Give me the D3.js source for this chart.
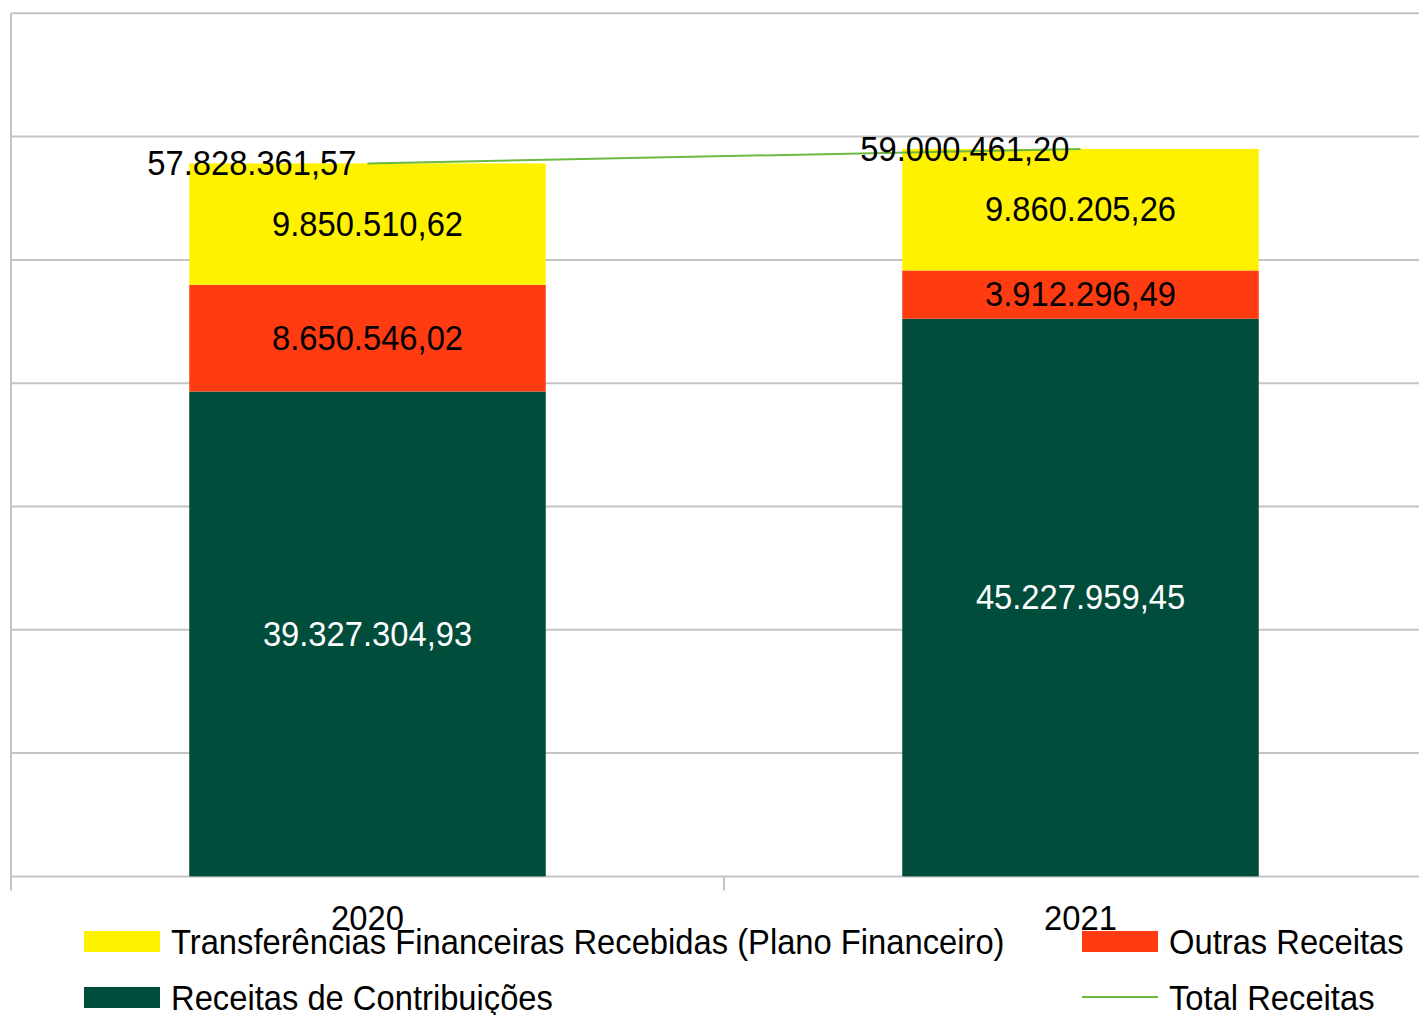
<!DOCTYPE html>
<html>
<head>
<meta charset="utf-8">
<script src="https://cdn.jsdelivr.net/npm/d3@7"></script>
<style>
  body { margin: 0; background: #fff; }
  text { font-family: "Liberation Sans", Arial, sans-serif; }
</style>
</head>
<body>
<main></main>
<script>
// Data
const years = ["2020", "2021"];
const contribuicoes = [39327304.93, 45227959.45];
const outras = [8650546.02, 3912296.49];
const transferencias = [9850510.62, 9860205.26];
const totais = [57828361.57, 59000461.20];
const yTicks = [0, 10000000, 20000000, 30000000, 40000000, 50000000, 60000000, 70000000];

// Dimensions
const width = 1419;
const height = 1015;
const plot = { left: 11, right: 1437, top: 13.3, bottom: 876.4 };
const fontSize = 35;
const squeeze = 0.935; // text in the original is slightly condensed

const colors = {
  contribuicoes: "#014d3c",
  outras: "#ff3b12",
  transferencias: "#fff200",
  total: "#6cb845",
  grid: "#c4c4c4",
};

const svg = d3
  .select("main")
  .append("svg")
  .attr("width", width)
  .attr("height", height);

// place a condensed text at (x, y)
const place = (x, y) => `translate(${x}, ${y}) scale(${squeeze}, 1)`;

// Scales
const xScale = d3
  .scaleBand()
  .domain(years)
  .range([plot.left, plot.right])
  .paddingInner(0.5)
  .paddingOuter(0.25);

const yScale = d3
  .scaleLinear()
  .domain([0, 70000000])
  .range([plot.bottom, plot.top]);

// Gridlines
svg
  .append("g")
  .selectAll("line")
  .data(yTicks)
  .enter()
  .append("line")
  .attr("x1", plot.left)
  .attr("x2", width)
  .attr("y1", (d) => yScale(d))
  .attr("y2", (d) => yScale(d))
  .attr("stroke", colors.grid)
  .attr("stroke-width", 2);

// Left axis line
svg
  .append("line")
  .attr("x1", plot.left)
  .attr("x2", plot.left)
  .attr("y1", plot.top)
  .attr("y2", plot.bottom + 14)
  .attr("stroke", colors.grid)
  .attr("stroke-width", 2);

// Tick marks between categories
const step = xScale.step();
svg
  .append("g")
  .selectAll("line")
  .data([1])
  .enter()
  .append("line")
  .attr("x1", (d) => plot.left + d * step)
  .attr("x2", (d) => plot.left + d * step)
  .attr("y1", plot.bottom)
  .attr("y2", plot.bottom + 14)
  .attr("stroke", colors.grid)
  .attr("stroke-width", 2);

// Stacked data
const rows = years.map((y, i) => ({
  year: y,
  contribuicoes: contribuicoes[i],
  outras: outras[i],
  transferencias: transferencias[i],
}));
const keys = ["contribuicoes", "outras", "transferencias"];
const stack = d3.stack().keys(keys)(rows);

const labelFormat = (v) =>
  v.toLocaleString("pt-BR", { minimumFractionDigits: 2, maximumFractionDigits: 2 });

stack.forEach((layer) => {
  const g = svg.append("g");
  g.selectAll("rect")
    .data(layer)
    .enter()
    .append("rect")
    .attr("x", (d) => xScale(d.data.year))
    .attr("y", (d) => yScale(d[1]))
    .attr("width", xScale.bandwidth())
    .attr("height", (d) => yScale(d[0]) - yScale(d[1]))
    .attr("fill", colors[layer.key]);

  g.selectAll("text")
    .data(layer)
    .enter()
    .append("text")
    .attr("transform", (d) =>
      place(xScale(d.data.year) + xScale.bandwidth() / 2, (yScale(d[0]) + yScale(d[1])) / 2 - 1)
    )
    .attr("dy", "0.36em")
    .attr("text-anchor", "middle")
    .attr("font-size", fontSize)
    .attr("fill", layer.key === "contribuicoes" ? "#ffffff" : "#000000")
    .text((d) => labelFormat(d[1] - d[0]));
});

// Total line
const cx = (y) => xScale(y) + xScale.bandwidth() / 2;
const line = d3
  .line()
  .x((d, i) => cx(years[i]))
  .y((d) => yScale(d));

svg
  .append("path")
  .datum(totais)
  .attr("d", line)
  .attr("fill", "none")
  .attr("stroke", colors.total)
  .attr("stroke-width", 2);

svg
  .append("g")
  .selectAll("text")
  .data(totais)
  .enter()
  .append("text")
  .attr("transform", (d, i) => place(cx(years[i]) - 11, yScale(d) - 1))
  .attr("dy", "0.36em")
  .attr("text-anchor", "end")
  .attr("font-size", fontSize)
  .attr("fill", "#000")
  .text((d) => labelFormat(d));

// Legend
const legendItems = [
  { label: "Transferências Financeiras Recebidas (Plano Financeiro)", key: "transferencias", x: 84, y: 941, type: "rect" },
  { label: "Outras Receitas", key: "outras", x: 1082, y: 941, type: "rect" },
  { label: "Receitas de Contribuições", key: "contribuicoes", x: 84, y: 997, type: "rect" },
  { label: "Total Receitas", key: "total", x: 1082, y: 997, type: "line" },
];

const legend = svg.append("g").attr("id", "legend");
legendItems.forEach((item) => {
  if (item.type === "rect") {
    legend
      .append("rect")
      .attr("x", item.x)
      .attr("y", item.y - 10)
      .attr("width", 76)
      .attr("height", 21)
      .attr("fill", colors[item.key]);
  } else {
    legend
      .append("line")
      .attr("x1", item.x)
      .attr("x2", item.x + 76)
      .attr("y1", item.y)
      .attr("y2", item.y)
      .attr("stroke", colors[item.key])
      .attr("stroke-width", 2);
  }
  legend
    .append("text")
    .attr("transform", place(item.x + 87, item.y))
    .attr("dy", "0.36em")
    .attr("font-size", fontSize)
    .attr("fill", "#000")
    .text(item.label);
});

// X axis labels
const xAxis = d3.axisBottom(xScale).tickSize(0).tickPadding(0);
svg
  .append("g")
  .attr("transform", `translate(0, ${plot.bottom})`)
  .call(xAxis)
  .call((g) => g.select(".domain").remove())
  .selectAll("text")
  .attr("font-size", fontSize)
  .attr("fill", "#000")
  .attr("y", null)
  .attr("dy", "0.36em")
  .attr("transform", place(0, 41));
</script>
</body>
</html>
